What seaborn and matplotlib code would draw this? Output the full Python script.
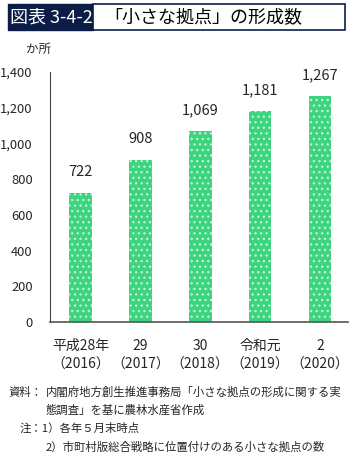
import matplotlib
matplotlib.use("Agg")
import matplotlib.pyplot as plt
import seaborn as sns
import pandas as pd
from matplotlib.patches import Rectangle

categories = ["平成28年\n（2016）", "29\n（2017）", "30\n（2018）", "令和元\n（2019）", "2\n（2020）"]
values = [722, 908, 1069, 1181, 1267]
yticks = [0, 200, 400, 600, 800, 1000, 1200, 1400]

sns.set_theme(style="white")
plt.rcParams['font.family'] = ['Noto Sans CJK JP', 'DejaVu Sans']
plt.rcParams['hatch.linewidth'] = 0.9

df = pd.DataFrame({"cat": categories, "val": values})

fig = plt.figure(figsize=(3.5, 4.53), dpi=100)
ax = fig.add_axes([50/350, 1-322/453, 298/350, 250/453])

sns.barplot(data=df, x="cat", y="val", color="#3dd47f", width=0.38, ax=ax,
            saturation=1, linewidth=0)
for p in ax.patches:
    p.set_hatch("...")
    p.set_edgecolor("#c9f3da")
    p.set_linewidth(0)

ax.set_ylim(0, 1400)
ax.set_xlim(-0.51, 4.47)
ax.set_yticks(yticks)
ax.set_yticklabels([f"{v:,}" for v in yticks], fontsize=9.3)
ax.set_xlabel("")
ax.set_ylabel("")
ax.tick_params(axis="x", length=0, labelsize=10, pad=12)
ax.tick_params(axis="y", direction="in", length=3, width=0.8, color="#444444", pad=12.5, labelsize=9.3)
for lbl in ax.get_xticklabels():
    lbl.set_linespacing(1.45)
for s in ["top", "right"]:
    ax.spines[s].set_visible(False)
ax.spines["left"].set_color("#444444")
ax.spines["bottom"].set_color("#555555")
ax.spines["left"].set_linewidth(0.8)
ax.spines["bottom"].set_linewidth(1.2)

for i, v in enumerate(values):
    ax.annotate(f"{v:,}", (i, v), xytext=(0, 15), textcoords="offset points",
                ha="center", va="center", fontsize=10.5)

# title boxes
fig.patches.append(Rectangle((8/350, 1-30/453), 85/350, 26/453, transform=fig.transFigure,
                             facecolor="#0b1d47", edgecolor="#0b1d47", linewidth=1))
fig.patches.append(Rectangle((93/350, 1-30/453), 252/350, 26/453, transform=fig.transFigure,
                             facecolor="white", edgecolor="#0b1d47", linewidth=1.2))
fig.text(10/350, 1-17/453, "図表 3-4-2", color="white", fontsize=13, va="center", ha="left")
fig.text(104/350, 1-17/453, "「小さな拠点」の形成数", color="black", fontsize=13, va="center", ha="left")
fig.text(26/350, 1-49/453, "か所", fontsize=9, va="center", ha="left")

# footnotes
fs = 8.2
fig.text(8/350, 1-392/453, "資料：", fontsize=fs, va="center", ha="left")
fig.text(46/350, 1-392/453, "内閣府地方創生推進事務局「小さな拠点の形成に関する実", fontsize=fs, va="center", ha="left")
fig.text(46/350, 1-410/453, "態調査」を基に農林水産省作成", fontsize=fs, va="center", ha="left")
fig.text(20/350, 1-428/453, "注：1）各年５月末時点", fontsize=fs, va="center", ha="left")
fig.text(46/350, 1-447/453, "2）市町村版総合戦略に位置付けのある小さな拠点の数", fontsize=fs, va="center", ha="left")

fig.savefig("out.png", dpi=100)
